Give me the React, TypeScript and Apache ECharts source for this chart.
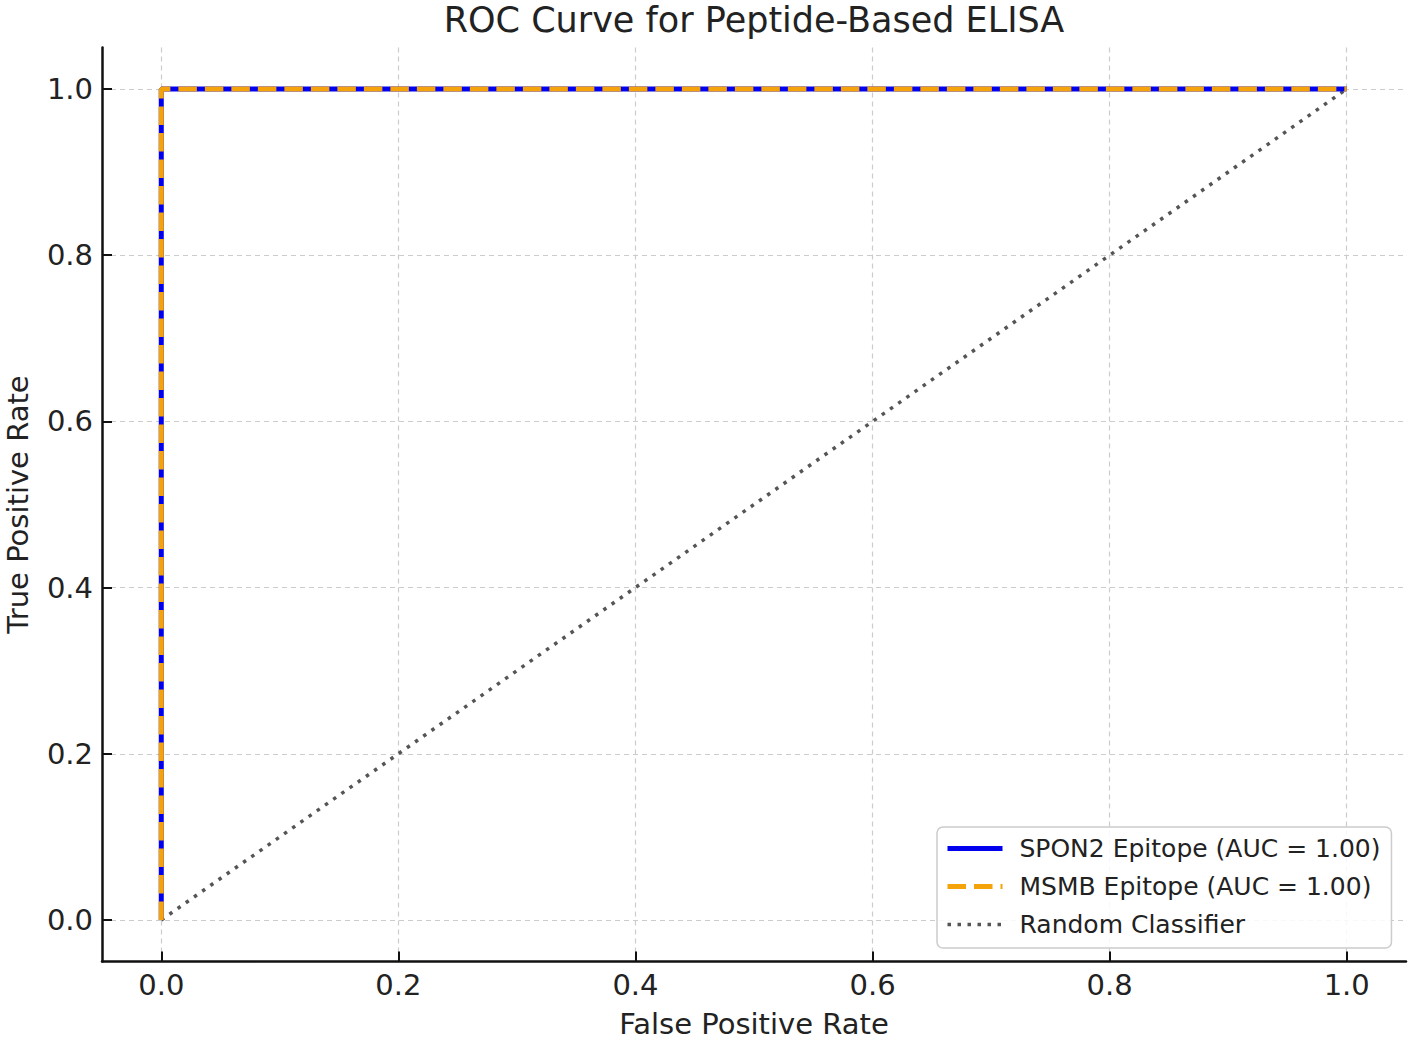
import React, { useEffect, useRef } from "react";
import * as echarts from "echarts";

const titleText = "ROC Curve for Peptide-Based ELISA";
const xAxisName = "False Positive Rate";
const yAxisName = "True Positive Rate";
const tickValues = [0, 0.2, 0.4, 0.6, 0.8, 1.0];

const spon2Name = "SPON2 Epitope (AUC = 1.00)";
const spon2Fpr = [0, 0, 1];
const spon2Tpr = [0, 1, 1];

const msmbName = "MSMB Epitope (AUC = 1.00)";
const msmbFpr = [0, 0, 1];
const msmbTpr = [0, 1, 1];

const randomName = "Random Classifier";
const randomFpr = [0, 1];
const randomTpr = [0, 1];

const zip = (xs: number[], ys: number[]) => xs.map((x, i) => [x, ys[i]]);

const FONT = '"DejaVu Sans", "Liberation Sans", sans-serif';

export default function App() {
  const ref = useRef<HTMLDivElement>(null);

  useEffect(() => {
    if (!ref.current) return;
    const chart = echarts.init(ref.current, undefined, { renderer: "svg" });
    const axisCommon = {
      type: "value" as const,
      min: -0.05,
      max: 1.05,
      nameLocation: "middle" as const,
      nameTextStyle: { fontSize: 29, fontFamily: FONT, color: "#222" },
      axisLine: { show: true, onZero: false, lineStyle: { color: "#111", width: 2.5 } },
      axisTick: {
        show: true,
        inside: true,
        length: 10,
        customValues: tickValues,
        lineStyle: { color: "#111", width: 2 },
      },
      axisLabel: {
        customValues: tickValues,
        fontSize: 29,
        fontFamily: FONT,
        color: "#222",
        formatter: (v: number) => v.toFixed(1),
      },
      splitLine: {
        show: true,
        lineStyle: { color: "#cccccc", width: 1.2, type: [5, 4] },
      },
    };

    chart.setOption({
      animation: false,
      backgroundColor: "#ffffff",
      graphic: [
        {
          type: "text",
          x: 754,
          y: 20,
          style: {
            text: titleText,
            fontSize: 35,
            fontFamily: FONT,
            fill: "#222",
            align: "center",
            verticalAlign: "middle",
          },
        },
      ],
      grid: {
        left: 102,
        top: 47.5,
        width: 1304,
        height: 914,
        containLabel: false,
        outerBoundsMode: "none",
      },
      xAxis: {
        ...axisCommon,
        name: xAxisName,
        nameGap: 48,
        axisLabel: { ...axisCommon.axisLabel, margin: 9 },
      },
      yAxis: {
        ...axisCommon,
        name: yAxisName,
        nameGap: 70,
        axisLabel: { ...axisCommon.axisLabel, margin: 9 },
      },
      legend: {
        orient: "vertical",
        left: 937,
        top: 827,
        data: [
          { name: spon2Name, itemStyle: { opacity: 0 }, lineStyle: { width: 5 } },
          { name: msmbName, itemStyle: { opacity: 0 }, lineStyle: { width: 5 } },
          { name: randomName, itemStyle: { opacity: 0 }, lineStyle: { width: 3.5 } },
        ],
        itemWidth: 55,
        itemHeight: 14,
        itemGap: 13,
        padding: [9, 11, 11, 8],
        backgroundColor: "rgba(255,255,255,0.85)",
        borderColor: "#cccccc",
        borderWidth: 1.5,
        borderRadius: 6,
        selectedMode: false,
        textStyle: {
          fontSize: 25,
          fontFamily: FONT,
          color: "#222",
          padding: [0, 0, 0, 12],
        },
      },
      series: [
        {
          name: randomName,
          type: "line",
          data: zip(randomFpr, randomTpr),
          symbol: "none",
          z: 2,
          color: "#555555",
          lineStyle: { color: "#555555", width: 3.5, type: [3.5, 6.5] },
          emphasis: { disabled: true },
        },
        {
          name: spon2Name,
          type: "line",
          data: zip(spon2Fpr, spon2Tpr),
          symbol: "none",
          z: 3,
          color: "#0000ee",
          lineStyle: { color: "#0000ee", width: 5, type: "solid" },
          emphasis: { disabled: true },
        },
        {
          name: msmbName,
          type: "line",
          data: zip(msmbFpr, msmbTpr),
          symbol: "none",
          z: 4,
          color: "#f5a30a",
          lineStyle: { color: "#f5a30a", width: 5, type: [18.5, 8] },
          emphasis: { disabled: true },
        },
      ],
    });
    return () => chart.dispose();
  }, []);

  return (
    <div
      ref={ref}
      style={{ position: "absolute", left: 0, top: 0, width: 1417, height: 1046, background: "#fff" }}
    />
  );
}
